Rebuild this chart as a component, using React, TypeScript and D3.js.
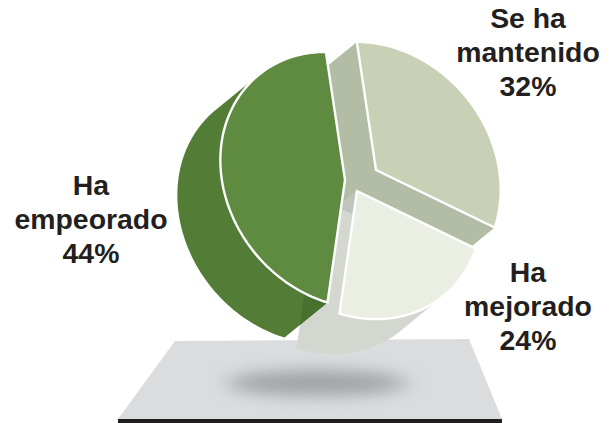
import React from "react";
import * as d3 from "d3";

const categories = ["Se ha mantenido", "Ha mejorado", "Ha empeorado"];
const shares = [32, 24, 44];
// angular extent of each face as it appears on the tilted disc, in degrees
const faceSweeps = [116.6, 80.3, 163.1];
const labelLines = [["Se ha", "mantenido", "32%"], ["Ha", "mejorado", "24%"], ["Ha", "empeorado", "44%"]];
const faceColors = ["#c8d1b6", "#eaeee3", "#5e8b3f"];
const wallColors = ["#b3bda6", "#d4d7d0", "#537d37"];
const apexes: [number, number][] = [[376, 170], [357, 191], [345, 180]];
const labelPos: [number, number][] = [[528, 28], [528, 282], [91, 195]];

const W = 612, H = 423;
const tilt = (50 * Math.PI) / 180;
const rx = 136, ry = 116;
const depth: [number, number] = [-43, 35];
const toRad = d3.scaleLinear().domain([0, 180]).range([0, Math.PI]);

const pie = d3.pie<number>().sort(null).value((d) => d).startAngle(toRad(-54.3)).endAngle(toRad(305.7));
const arcs = pie(faceSweeps);

function rim(i: number): [number, number][] {
  const a = arcs[i];
  const n = 90;
  const [cx, cy] = apexes[i];
  return d3.range(n + 1).map((k) => {
    const t = a.startAngle + ((a.endAngle - a.startAngle) * k) / n;
    const u = rx * Math.sin(t), v = -ry * Math.cos(t);
    return [cx + u * Math.cos(tilt) - v * Math.sin(tilt), cy + u * Math.sin(tilt) + v * Math.cos(tilt)] as [number, number];
  });
}
const line = d3.line();
const facePts = arcs.map((_, i) => [apexes[i], ...rim(i)] as [number, number][]);
const hulls = facePts.map((pts) => {
  const all = [...pts, ...pts.map((p) => [p[0] + depth[0], p[1] + depth[1]] as [number, number])];
  return d3.polygonHull(all) as [number, number][];
});
const closed = (p: [number, number][]) => (line(p) as string) + "Z";

export default function App() {
  return (
    <svg width={W} height={H} viewBox={`0 0 ${W} ${H}`} style={{ position: "absolute", left: 0, top: 0, background: "#fff" }}>
      <defs>
        <filter id="blur" x="-30%" y="-150%" width="160%" height="400%">
          <feGaussianBlur stdDeviation="11 8" />
        </filter>
        <clipPath id="clipLight"><path d={closed(hulls[0])} /></clipPath>
        <clipPath id="clipDark"><path d={closed(hulls[2])} /></clipPath>
      </defs>
      <polygon points="175,341 469,339 502,419 118,419" fill="#dbdcde" />
      <rect x={118} y={419} width={384} height={4} fill="#231f20" />
      <ellipse cx={317} cy={383} rx={90} ry={13} fill="#a2a3a7" filter="url(#blur)" />
      <path d={closed(hulls[0])} fill={wallColors[0]} />
      <path d={closed(hulls[1])} fill={wallColors[1]} />
      <path d={closed(hulls[1])} fill="#c0c4be" clipPath="url(#clipLight)" />
      <path d={closed(hulls[2])} fill={wallColors[2]} />
      <path d={closed(hulls[1])} fill="#48702f" clipPath="url(#clipDark)" />
      {categories.map((c, i) => (
        <path key={c} d={closed(facePts[i])} fill={faceColors[i]} stroke="#fff" strokeWidth={2.4} strokeLinejoin="miter" />
      ))}
      {labelLines.map((ls, i) => (
        <text key={i} textAnchor="middle" fontFamily="Liberation Sans, Arial, sans-serif" fontWeight="bold" fontSize={28.4} fill="#231f20">
          {ls.map((t, k) => (
            <tspan key={k} x={labelPos[i][0]} y={labelPos[i][1] + k * 34}>{t}</tspan>
          ))}
        </text>
      ))}
    </svg>
  );
}
